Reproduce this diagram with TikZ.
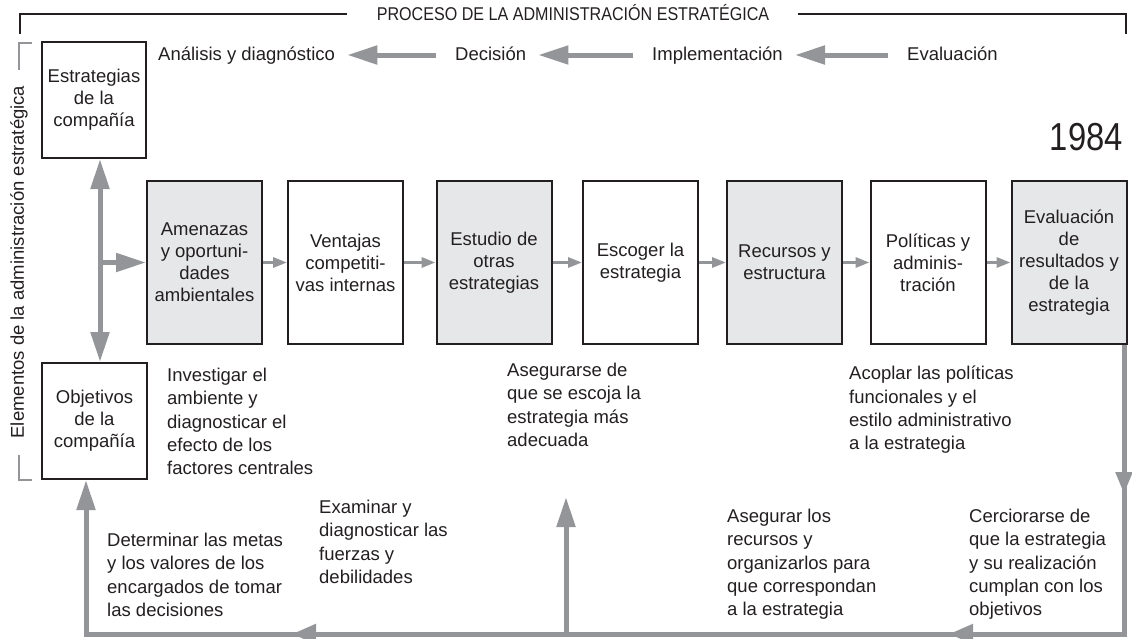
\documentclass[tikz,border=0pt]{standalone}
\usepackage{fontspec}
\setmainfont{Liberation Sans}
\usetikzlibrary{arrows.meta, decorations.markings}
\definecolor{arrowgray}{RGB}{147,149,152}
\definecolor{boxgray}{RGB}{230,231,232}
\definecolor{ink}{RGB}{35,31,32}
\newcommand{\txtfont}{\fontsize{18.5}{23.3}\selectfont}
\newcommand{\boxfont}{\fontsize{18.5}{22}\selectfont}
\newcommand{\narrowtext}[2]{\scalebox{#1}[1]{#2}}
\tikzset{
  stepbox/.style={draw=ink, line width=2pt, minimum width=115pt, minimum height=163pt,
    inner sep=0pt, align=center, font=\boxfont, text=ink},
  shadedbox/.style={stepbox, fill=boxgray},
  goalbox/.style={stepbox, minimum width=104pt, minimum height=116pt},
  note/.style={anchor=north west, inner sep=0pt, align=left, font=\txtfont, text=ink},
  phase/.style={anchor=west, inner sep=0pt, font=\txtfont, text=ink,
    text height=10pt, text depth=0pt},
  flow/.style={draw=arrowgray, line width=5pt, -{Triangle[length=30pt,width=18pt]}},
  link/.style={draw=arrowgray, line width=3pt, -{Triangle[length=14pt,width=10pt]}},
  frame/.style={draw=ink, line width=2pt},
  bracket/.style={draw=arrowgray, line width=2pt},
}

\begin{document}
\begin{tikzpicture}[x=1pt, y=-1pt]
    \useasboundingbox (0,0) rectangle (1132,638);
    \clip (0,0) rectangle (1132,638);

    % header bracket
    \node[inner sep=0pt, font=\txtfont, text=ink, text height=13pt, text depth=0pt] (hdr)
        at (573,13.5) {\narrowtext{0.87}{PROCESO DE LA ADMINISTRACIÓN ESTRATÉGICA}};
    \coordinate (frameL) at (20,34);
    \coordinate (frameR) at (1126,34);
    \draw[frame, shorten >=30pt] (frameL) |- (hdr.west);
    \draw[frame, shorten <=29pt] (hdr.east) -| (frameR);

    % phases
    \node[phase] (analysis) at (158,55) {Análisis y diagnóstico};
    \node[phase] (decision) at (455,55) {Decisión};
    \node[phase] (implement) at (652,55) {Implementación};
    \node[phase] (evaluation) at (907,55) {Evaluación};
    \draw[flow, shorten <=19pt, shorten >=12pt] (decision.west) -- (analysis.east);
    \draw[flow, shorten <=19pt, shorten >=12pt] (implement.west) -- (decision.east);
    \draw[flow, shorten <=19pt, shorten >=12pt] (evaluation.west) -- (implement.east);

    \node[anchor=base east, inner sep=0pt, font=\fontsize{39}{39}\selectfont, text=ink] (year)
        at (1123,150) {\narrowtext{0.84}{1984}};

    % elements
    \node[rotate=90, inner sep=0pt, font=\txtfont, text=ink] (elements)
        at (19,262) {Elementos de la administración estratégica};
    \draw[bracket] (32,43) -| (19,70);
    \draw[bracket] (19,455) |- (32,480);

    \node[goalbox] (estr) at (94,100) {Estrategias\\de la\\compañía};
    \node[goalbox, minimum width=105pt] (obj) at (94.5,421) {Objetivos\\de la\\compañía};

    % process boxes
    \node[shadedbox] (amen) at (204.5,262.5) {Amenazas\\y oportuni-\\dades\\ambientales};
    \node[stepbox] (vent) at (345.5,262.5) {Ventajas\\competiti-\\vas internas};
    \node[shadedbox] (study) at (494,262.5) {Estudio de\\otras\\estrategias};
    \node[stepbox] (choose) at (640.5,262.5) {Escoger la\\estrategia};
    \node[shadedbox] (resources) at (784.5,262.5) {Recursos y\\estructura};
    \node[stepbox] (policies) at (928,262.5) {Políticas y\\adminis-\\tración};
    \node[shadedbox] (evalb) at (1069,262.5) {Evaluación\\de\\resultados y\\de la\\estrategia};

    \draw[link] (amen) -- (vent);
    \draw[link] (vent) -- (study);
    \draw[link] (study) -- (choose);
    \draw[link] (choose) -- (resources);
    \draw[link] (resources) -- (policies);
    \draw[link] (policies) -- (evalb);

    \coordinate (spine) at (100,262.5);
    \draw[flow, {Triangle[length=30pt,width=18pt]}-{Triangle[length=30pt,width=18pt]}]
        (spine |- estr.south) -- (spine |- obj.north);
    \draw[flow] (spine) -- (amen.west);

    % notes
    \node[note] (investigate) at (167,368) {Investigar el\\ambiente y\\diagnosticar el\\efecto de los\\factores centrales};
    \node[note] (ensure) at (507,363) {Asegurarse de\\que se escoja la\\estrategia más\\adecuada};
    \node[note] (couple) at (849,366) {Acoplar las políticas\\funcionales y el\\estilo administrativo\\a la estrategia};
    \node[note] (goals) at (107,533) {Determinar las metas\\y los valores de los\\encargados de tomar\\las decisiones};
    \node[note] (examine) at (319,500) {Examinar y\\diagnosticar las\\fuerzas y\\debilidades};
    \node[note] (secure) at (727,509) {Asegurar los\\recursos y\\organizarlos para\\que correspondan\\a la estrategia};
    \node[note] (verify) at (969,509) {Cerciorarse de\\que la estrategia\\y su realización\\cumplan con los\\objetivos};

    % feedback loop
    \coordinate (loopE) at (1124,634);
    \coordinate (loopW) at (86,634);
    \coordinate (pick) at (566,497);
    \draw[flow, decoration={markings,
        mark=at position 149pt with {\arrow{Triangle[length=22pt,width=16pt]}},
        mark=at position 464pt with {\arrow{Triangle[length=24pt,width=19pt]}},
        mark=at position 1121pt with {\arrow{Triangle[length=24pt,width=19pt]}}},
        postaction={decorate}]
        (evalb.south -| loopE) -- (loopE) -- (loopW) -- (obj.south -| loopW);
    \draw[flow] (pick |- loopW) -- (pick);
\end{tikzpicture}
\end{document}
